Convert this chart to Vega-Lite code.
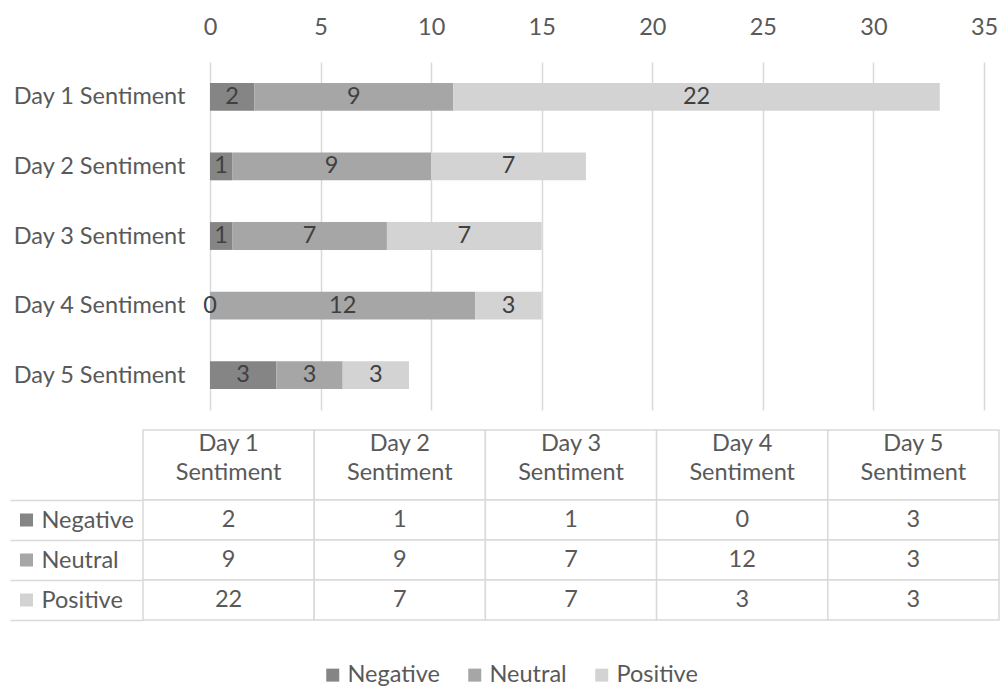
{
  "$schema": "https://vega.github.io/schema/vega-lite/v6.json",
  "padding": {"left": 10, "top": 15, "right": 0, "bottom": 0},
  "background": "white",
  "config": {
    "view": {"stroke": null},
    "font": "Lato",
    "axis": {"labelFont": "Lato", "labelColor": "#595959"},
    "legend": {"labelFont": "Lato", "labelColor": "#595959"}
  },
  "datasets": {
    "sent": [
      {"day": "Day 1 Sentiment", "sentiment": "Negative", "count": 2},
      {"day": "Day 1 Sentiment", "sentiment": "Neutral", "count": 9},
      {"day": "Day 1 Sentiment", "sentiment": "Positive", "count": 22},
      {"day": "Day 2 Sentiment", "sentiment": "Negative", "count": 1},
      {"day": "Day 2 Sentiment", "sentiment": "Neutral", "count": 9},
      {"day": "Day 2 Sentiment", "sentiment": "Positive", "count": 7},
      {"day": "Day 3 Sentiment", "sentiment": "Negative", "count": 1},
      {"day": "Day 3 Sentiment", "sentiment": "Neutral", "count": 7},
      {"day": "Day 3 Sentiment", "sentiment": "Positive", "count": 7},
      {"day": "Day 4 Sentiment", "sentiment": "Negative", "count": 0},
      {"day": "Day 4 Sentiment", "sentiment": "Neutral", "count": 12},
      {"day": "Day 4 Sentiment", "sentiment": "Positive", "count": 3},
      {"day": "Day 5 Sentiment", "sentiment": "Negative", "count": 3},
      {"day": "Day 5 Sentiment", "sentiment": "Neutral", "count": 3},
      {"day": "Day 5 Sentiment", "sentiment": "Positive", "count": 3}
    ],
    "hdr": [
      {"day": "Day 1 Sentiment", "label": "Day 1\nSentiment"},
      {"day": "Day 2 Sentiment", "label": "Day 2\nSentiment"},
      {"day": "Day 3 Sentiment", "label": "Day 3\nSentiment"},
      {"day": "Day 4 Sentiment", "label": "Day 4\nSentiment"},
      {"day": "Day 5 Sentiment", "label": "Day 5\nSentiment"}
    ]
  },
  "concat": [
    {
      "concat": [
        {
          "data": {"name": "sent"},
          "width": 200,
          "height": 348,
          "mark": {"type": "point", "opacity": 0},
          "encoding": {
            "y": {
              "field": "day", "type": "nominal",
              "scale": {"paddingInner": 0.6, "paddingOuter": 0.3},
              "axis": {"orient": "right", "title": null, "ticks": false, "domain": false, "labelAlign": "right", "labelPadding": -25, "labelFontSize": 23.5}
            }
          }
        },
        {
          "data": {"name": "sent"},
          "width": 774,
          "height": 348,
          "encoding": {
            "y": {
              "field": "day", "type": "nominal",
              "scale": {"paddingInner": 0.6, "paddingOuter": 0.3},
              "axis": null
            }
          },
          "layer": [
            {
              "mark": {"type": "bar"},
              "encoding": {
                "x": {
                  "field": "count", "type": "quantitative", "stack": "zero",
                  "scale": {"domain": [0, 35]},
                  "axis": {"orient": "top", "title": null, "values": [0, 5, 10, 15, 20, 25, 30, 35], "ticks": false, "domain": false, "grid": true, "gridColor": "#d9d9d9", "gridWidth": 1.5, "labelFontSize": 23.5, "labelPadding": 23, "labelFlush": false}
                },
                "color": {
                  "field": "sentiment", "type": "nominal",
                  "scale": {"domain": ["Negative", "Neutral", "Positive"], "range": ["#858585", "#a6a6a6", "#d3d3d3"]},
                  "legend": null
                },
                "order": {"field": "sentiment", "type": "nominal", "sort": "ascending"}
              }
            },
            {
              "mark": {"type": "text", "fontSize": 23.5, "color": "#404040", "baseline": "middle"},
              "encoding": {
                "x": {"field": "count", "type": "quantitative", "stack": "zero", "bandPosition": 0.5},
                "detail": {"field": "sentiment", "type": "nominal"},
                "order": {"field": "sentiment", "type": "nominal", "sort": "ascending"},
                "text": {"field": "count", "type": "quantitative"}
              }
            }
          ]
        }
      ],
      "columns": 2,
      "spacing": 0,
      "bounds": "flush",
      "align": "each"
    },
    {
      "concat": [
        {
          "data": {"name": "hdr"},
          "width": 133,
          "height": 70,
          "mark": {"type": "point", "opacity": 0}
        },
        {
          "data": {"name": "hdr"},
          "width": 856,
          "height": 70,
          "encoding": {
            "x": {"field": "day", "type": "nominal", "scale": {"paddingInner": 0, "paddingOuter": 0}, "axis": null}
          },
          "layer": [
            {"mark": {"type": "rect", "fill": "white", "stroke": "#d9d9d9", "strokeWidth": 1.5}},
            {"mark": {"type": "text", "fontSize": 23.5, "color": "#595959", "lineBreak": "\n", "lineHeight": 29, "baseline": "middle", "dy": -21},
             "encoding": {"text": {"field": "label", "type": "nominal"}}}
          ]
        },
        {
          "data": {"name": "sent"},
          "width": 133,
          "height": 120,
          "mark": {"type": "point", "shape": "square", "filled": true, "opacity": 0},
          "encoding": {
            "y": {
              "field": "sentiment", "type": "nominal",
              "scale": {"paddingInner": 0, "paddingOuter": 0},
              "axis": {"title": null, "domain": false, "ticks": false, "grid": true, "tickBand": "extent", "gridColor": "#d9d9d9", "gridWidth": 1.5, "labelAlign": "left", "labelPadding": -31, "labelFontSize": 23.5}
            },
            "color": {
              "field": "sentiment", "type": "nominal",
              "scale": {"domain": ["Negative", "Neutral", "Positive"], "range": ["#858585", "#a6a6a6", "#d3d3d3"]},
              "legend": {"orient": "none", "legendX": 10, "legendY": 13.5, "direction": "vertical", "title": null, "symbolType": "square", "symbolSize": 169, "symbolOpacity": 1, "symbolStrokeWidth": 0, "labelExpr": "''", "labelFontSize": 1, "rowPadding": 27, "padding": 0}
            }
          }
        },
        {
          "data": {"name": "sent"},
          "width": 856,
          "height": 120,
          "encoding": {
            "y": {"field": "sentiment", "type": "nominal", "scale": {"paddingInner": 0, "paddingOuter": 0}, "axis": null}
          },
          "layer": [
            {
              "mark": {"type": "rect", "fill": "white", "stroke": "#d9d9d9", "strokeWidth": 1.5},
              "encoding": {"x": {"field": "day", "type": "nominal", "scale": {"paddingInner": 0, "paddingOuter": 0}, "axis": null}}
            },
            {
              "mark": {"type": "text", "fontSize": 23.5, "color": "#595959", "baseline": "middle"},
              "encoding": {
                "x": {"field": "day", "type": "nominal"},
                "text": {"field": "count", "type": "quantitative"}
              }
            },
            {
              "mark": {"type": "point", "shape": "square", "filled": true, "opacity": 0},
              "encoding": {
                "fill": {
                  "field": "sentiment", "type": "nominal",
                  "scale": {"domain": ["Negative", "Neutral", "Positive"], "range": ["#858585", "#a6a6a6", "#d3d3d3"]},
                  "legend": {"orient": "none", "legendX": 178, "legendY": 163, "direction": "horizontal", "title": null, "symbolType": "square", "symbolSize": 169, "symbolOpacity": 1, "symbolStrokeWidth": 0, "labelFontSize": 23.5, "labelOffset": 3, "columnPadding": 23, "padding": 0}
                }
              }
            }
          ]
        }
      ],
      "columns": 2,
      "spacing": 0,
      "bounds": "flush",
      "align": "each",
      "resolve": {"legend": {"color": "independent", "fill": "independent"}}
    }
  ],
  "columns": 1,
  "spacing": 19,
  "resolve": {"legend": {"color": "independent", "fill": "independent"}}
}
